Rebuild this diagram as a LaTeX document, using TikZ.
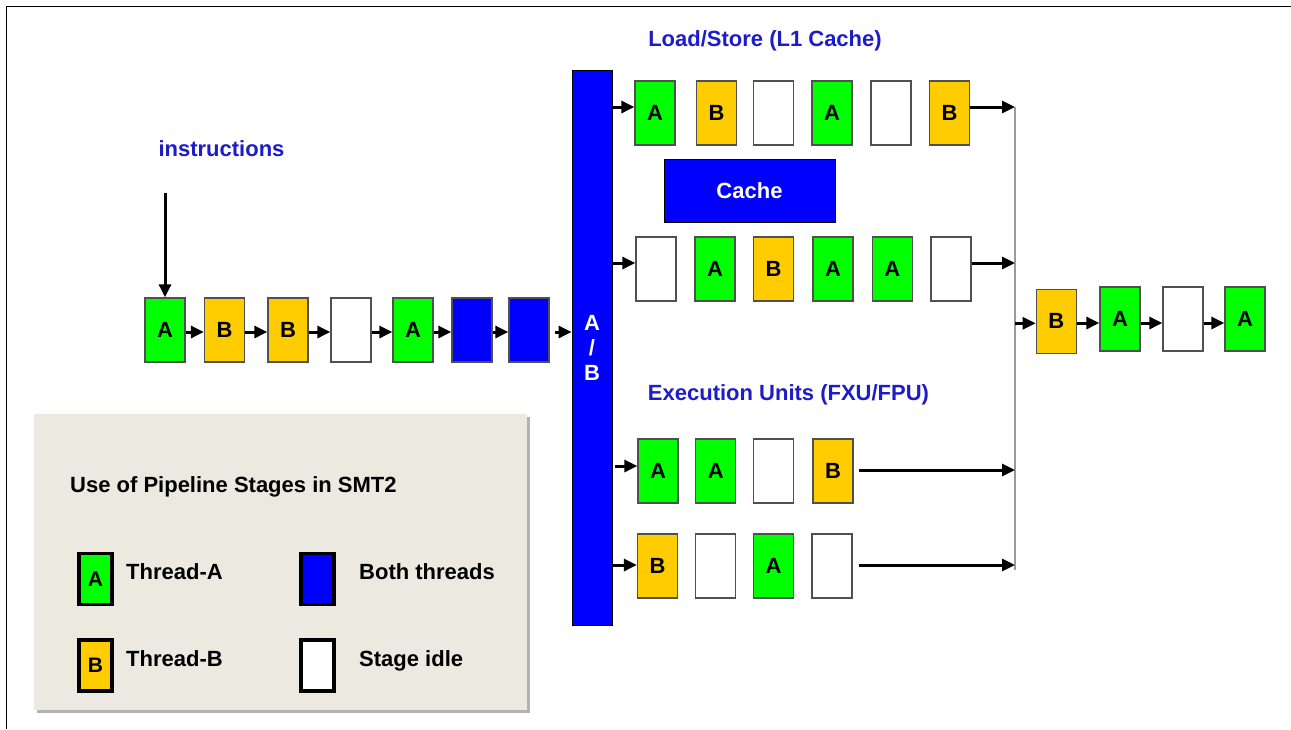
\documentclass[tikz,border=0pt]{standalone}
\usepackage{fontspec}
\setmainfont{Liberation Sans}
\usetikzlibrary{arrows.meta,calc,shadows}
\definecolor{thA}{HTML}{00FF00}
\definecolor{thB}{HTML}{FFCC00}
\definecolor{both}{HTML}{0000FF}
\definecolor{lbl}{HTML}{1C1CC8}
\definecolor{panel}{HTML}{ECE9E1}
\definecolor{edge}{HTML}{505050}
\definecolor{vgray}{HTML}{9A9A9A}
\tikzset{
  stg/.style={draw=edge, line width=1.3pt, minimum width=40pt, minimum height=64pt, inner sep=0pt, font=\fontsize{22}{22}\selectfont\bfseries},
  sA/.style={stg, fill=thA},
  sB/.style={stg, fill=thB},
  sI/.style={stg, fill=white},
  sX/.style={stg, fill=both},
  arr/.style={-{Triangle[length=13pt,width=12pt]}, line width=3pt, black},
  vline/.style={draw=vgray, line width=1.6pt},
  title/.style={text=lbl, font=\fontsize{22}{22}\selectfont\bfseries, inner sep=0pt, anchor=base},
  lgtext/.style={text=black, font=\fontsize{22}{22}\selectfont\bfseries, inner sep=0pt, anchor=base west},
  lg/.style={draw=black, line width=3.5pt, minimum width=33pt, minimum height=51pt, inner sep=0pt, font=\fontsize{21}{21}\selectfont\bfseries},
}
\begin{document}
\begin{tikzpicture}[x=1pt,y=-1pt]
\useasboundingbox (0,0) rectangle (1291,729);
% frame
\draw[line width=1.5pt] (6.5,729) -- (6.5,6.5) -- (1291,6.5);

% titles
\node[title] (tinstr) at (221.5,156) {instructions};
\node[title] (tls) at (765,46) {Load/Store (L1 Cache)};
\node[title] (tex) at (788.5,400) {Execution Units (FXU/FPU)};

% main pipeline
\node[sA] (m1) at (165,330) {A};
\node[sB] (m2) at (224.5,330) {B};
\node[sB] (m3) at (288,330) {B};
\node[sI] (m4) at (351,330) {};
\node[sA] (m5) at (413,330) {A};
\node[sX] (m6) at (472,330) {};
\node[sX] (m7) at (529,330) {};
\coordinate (instop) at (165,193);
\draw[arr] (instop) -- (m1.north);
\foreach \a/\b in {m1/m2,m2/m3,m3/m4,m4/m5,m5/m6,m6/m7}
  \draw[arr] ([yshift=-2pt]\a.east) -- ([yshift=-2pt]\b.west);

% A/B bar
\node[draw=black, line width=0.8pt, fill=both, minimum width=40pt, minimum height=555pt, inner sep=0pt,
      text=white, align=center, font=\fontsize{22}{25}\selectfont\bfseries] (bar) at (592,347.5) {A\\/\\B};
\draw[arr] ([yshift=-2pt,xshift=5pt]m7.east) -- ([yshift=-2pt]m7.east -| bar.west);

% vertical collector line
\coordinate (vtop) at (1015,107);
\coordinate (vbot) at (1015,570);
\draw[vline] (vtop) -- (vbot);

% load/store row 1
\node[sA] (l1) at (655,113) {A};
\node[sB] (l2) at (716.5,113) {B};
\node[sI] (l3) at (773.5,113) {};
\node[sA] (l4) at (832,113) {A};
\node[sI] (l5) at (891,113) {};
\node[sB] (l6) at (949.5,113) {B};
\draw[arr] ([yshift=6pt]l1.west -| bar.east) -- ([yshift=6pt]l1.west);
\draw[arr] ([yshift=6pt]l6.east) -- ([yshift=6pt]l6.east -| vtop);

% cache
\node[draw=black, line width=1pt, fill=both, minimum width=171pt, minimum height=63pt, inner sep=0pt,
      text=white, font=\fontsize{22}{22}\selectfont\bfseries] (cache) at (749.5,191) {Cache};

% load/store row 2
\node[sI] (k1) at (656,269) {};
\node[sA] (k2) at (715,269) {A};
\node[sB] (k3) at (773.5,269) {B};
\node[sA] (k4) at (833,269) {A};
\node[sA] (k5) at (892.3,269) {A};
\node[sI] (k6) at (951,269) {};
\draw[arr] ([yshift=6pt]k1.west -| bar.east) -- ([yshift=6pt]k1.west);
\draw[arr] ([yshift=6pt]k6.east) -- ([yshift=6pt]k6.east -| vtop);

% execution row 1
\node[sA] (e1) at (658,471) {A};
\node[sA] (e2) at (715.7,471) {A};
\node[sI] (e3) at (773.5,471) {};
\node[sB] (e4) at (833,471) {B};
\draw[arr] ([yshift=5pt,xshift=3pt]e1.west -| bar.east) -- ([yshift=5pt]e1.west);
\draw[arr] ([yshift=1pt,xshift=5pt]e4.east) -- ([yshift=1pt]e4.east -| vtop);

% execution row 2
\node[sB] (f1) at (657.5,566) {B};
\node[sI] (f2) at (715.3,566) {};
\node[sA] (f3) at (773.5,566) {A};
\node[sI] (f4) at (832,566) {};
\draw[arr] ([yshift=1pt,xshift=1pt]f1.west -| bar.east) -- ([yshift=1pt]f1.west);
\draw[arr] ([yshift=1pt,xshift=6pt]f4.east) -- ([yshift=1pt]f4.east -| vtop);

% output row
\node[sB] (o1) at (1056.3,321.3) {B};
\node[sA] (o2) at (1120,319) {A};
\node[sI] (o3) at (1183,319) {};
\node[sA] (o4) at (1245,319) {A};
\draw[arr] ([yshift=-2pt]o1.west -| vtop) -- ([yshift=-2pt]o1.west);
\draw[arr] ([yshift=-4pt]o2.west -| o1.east) -- ([yshift=-4pt]o2.west);
\draw[arr] ([yshift=-4pt]o2.east) -- ([yshift=-4pt]o3.west);
\draw[arr] ([yshift=-4pt]o3.east) -- ([yshift=-4pt]o4.west);

% legend
\node[fill=panel, minimum width=493pt, minimum height=296pt, inner sep=0pt,
      drop shadow={shadow xshift=2.5pt, shadow yshift=-2.5pt, fill=gray!60, opacity=1}] (legend) at (280.5,562) {};
\node[lgtext] (lgtitle) at (70,492.7) {Use of Pipeline Stages in SMT2};
\node[lg, fill=thA] (lgA) at (95.5,579) {A};
\node[lg, fill=both] (lgX) at (317.5,579) {};
\node[lg, fill=thB] (lgB) at (95.5,665.5) {B};
\node[lg, fill=white] (lgI) at (317.5,665.5) {};
\node[lgtext] (tA) at (126,579) {Thread-A};
\node[lgtext] (tX) at (359,579) {Both threads};
\node[lgtext] (tB) at (126,666.7) {Thread-B};
\node[lgtext] (tI) at (359,666.7) {Stage idle};
\end{tikzpicture}
\end{document}
